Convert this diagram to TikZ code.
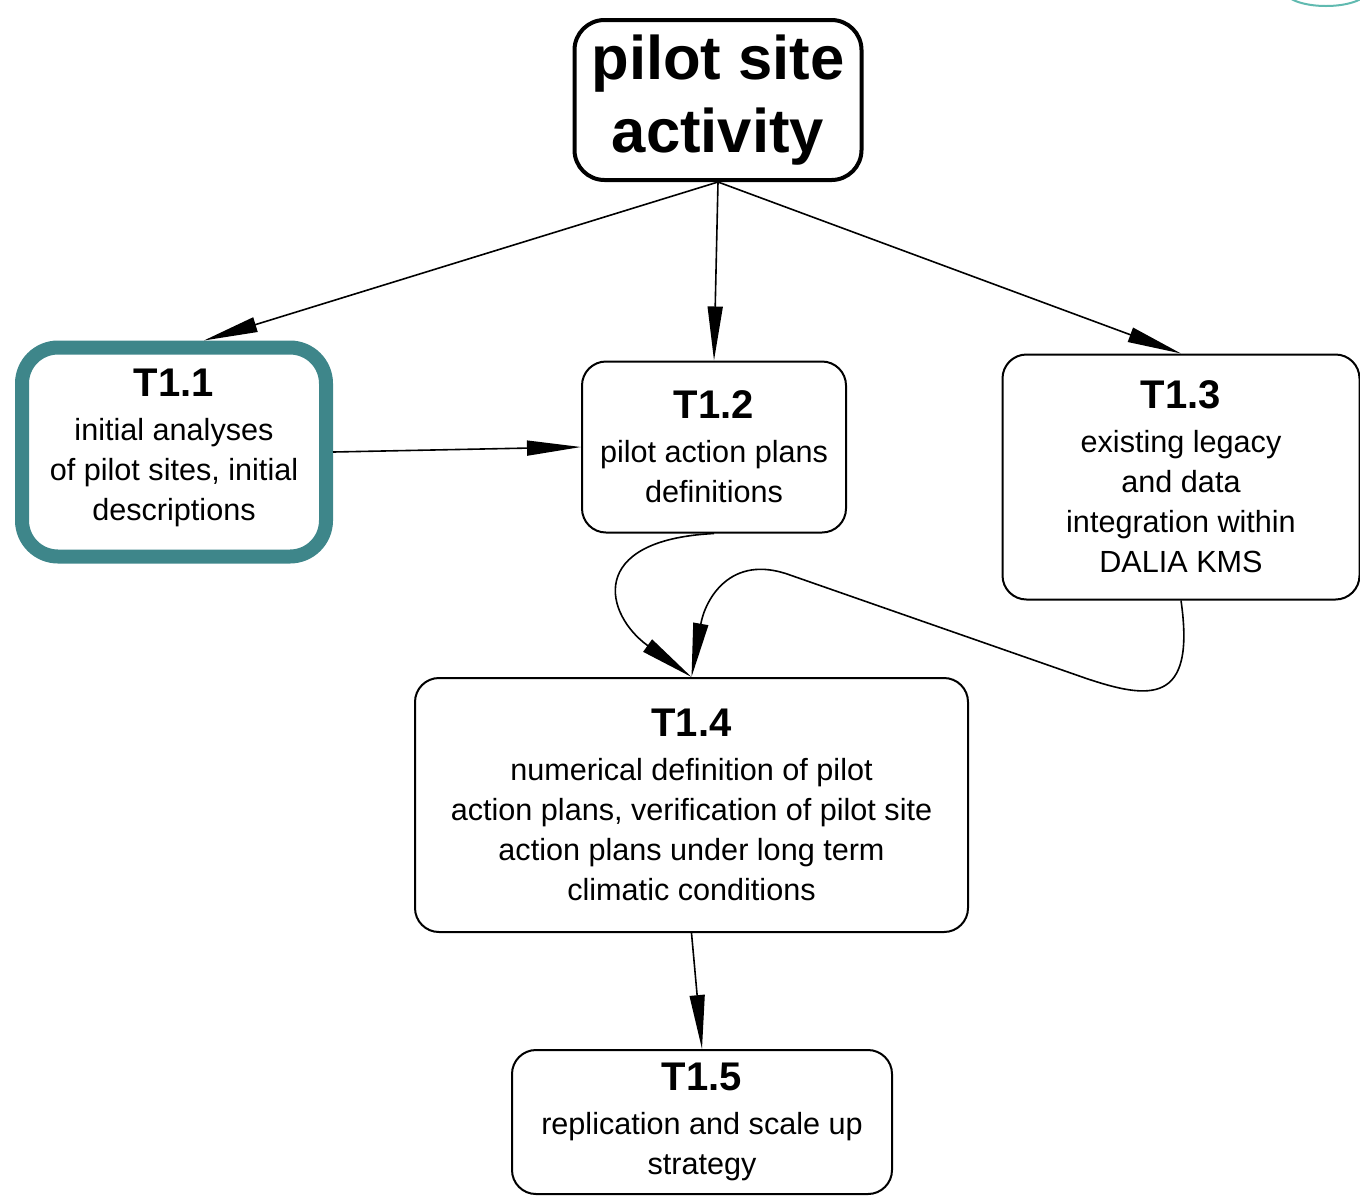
\documentclass[tikz,border=0pt]{standalone}
\usepackage{fontspec}
\setmainfont{Liberation Sans}
\usetikzlibrary{arrows.meta}
\definecolor{petroleo}{RGB}{62,134,138}
\definecolor{petroleoclaro}{RGB}{96,186,176}
\newcommand{\codigo}[1]{{\fontsize{20}{24}\selectfont\bfseries #1}}

\begin{document}
\begin{tikzpicture}[
  x=0.5pt, y=-0.5pt,
  every node/.style={draw, rounded corners=12pt, align=center, inner sep=0pt, line width=1pt,
    font=\fontsize{15.3}{20}\selectfont},
  seta/.style={-{Triangle[length=27pt,width=7.5pt]}, line width=0.8pt}
]
\tikzset{
  raiz/.style={line width=2pt, rounded corners=15pt, font=\bfseries\fontsize{30.8}{36.5}\selectfont},
  destaque/.style={draw=petroleo, line width=7pt, rounded corners=18pt}
}
\useasboundingbox (0,0) rectangle (1360,1196);
\begin{scope}
  \clip (0,0) rectangle (1360,1196);
  \draw[petroleoclaro, line width=1pt] (1326,-10) ellipse [x radius=42, y radius=16];
\end{scope}

\node[raiz, minimum width=143.5pt, minimum height=80pt] (atividade) at (718,100) {pilot site\\activity};
\node[destaque, minimum width=152pt, minimum height=104.5pt] (t11) at (174,452)
  {\codigo{T1.1}\\[2pt] initial analyses\\of pilot sites, initial\\descriptions\\[-13pt]};
\node[minimum width=132pt, minimum height=85.5pt] (t12) at (714,447)
  {\codigo{T1.2}\\[2pt] pilot action plans\\definitions};
\node[minimum width=178.5pt, minimum height=122.5pt] (t13) at (1181,477)
  {\codigo{T1.3}\\[2pt] existing legacy\\and data\\integration within\\DALIA KMS};
\node[minimum width=276.5pt, minimum height=127pt] (t14) at (691.5,805)
  {\codigo{T1.4}\\[2pt] numerical definition of pilot\\action plans, verification of pilot site\\action plans under long term\\climatic conditions};
\node[minimum width=190pt, minimum height=72pt] (t15) at (702,1122)
  {\codigo{T1.5}\\[2pt] replication and scale up\\strategy};

\draw[seta] (atividade.south) -- (t11.75);
\draw[seta] (atividade.south) -- (t12.north);
\draw[seta] (atividade.south) -- (t13.north);
\draw[seta] (t11.east) -- (t12.west);
% T1.2 e T1.3 alimentam T1.4
\draw[seta] (t12.south) .. controls (585,540) and (605,615) .. (t14.north);
\draw[seta] (t13.south) .. controls (1196,705) and (1150,700) .. (1085,678)
  -- (790,575) .. controls (730,553) and (705,600) .. (t14.north);
\draw[seta] (t14.south) -- (t15.north);
\end{tikzpicture}
\end{document}
